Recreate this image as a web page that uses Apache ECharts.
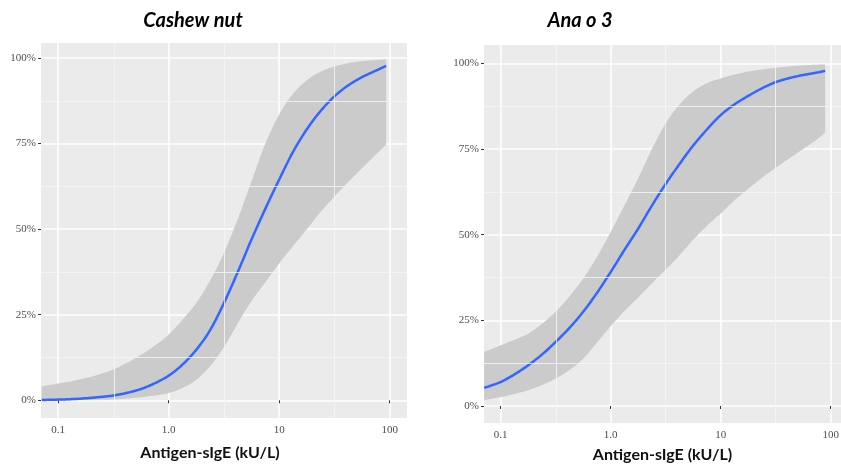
<!DOCTYPE html>
<html><head><meta charset="utf-8">
<script src="https://cdn.jsdelivr.net/npm/echarts@6/dist/echarts.min.js"></script>
<style>html,body{margin:0;padding:0;background:#fff}#c{width:841px;height:466px}</style>
</head><body><div id="c"></div>
<script>
// ---- text ----
const panelTitles = ['Cashew nut', 'Ana o 3'];
const xAxisTitle = 'Antigen-sIgE (kU/L)';
// ---- ticks ----
const xTickValues = [0.1, 1, 10, 100];
const xTickLabels = ['0.1', '1.0', '10', '100'];
const xMinorValues = [0.316, 3.16, 31.6];
const yTickValues = [0, 25, 50, 75, 100];
const yTickLabels = ['0%', '25%', '50%', '75%', '100%'];
const yMinorValues = [12.5, 37.5, 62.5, 87.5];

// ---- Cashew nut (sIgE kU/L, probability %) ----
const cashewX     = [0.0708, 0.1, 0.133, 0.178, 0.237, 0.316, 0.422, 0.562, 0.75, 1, 1.33, 1.78, 2.37, 3.16, 4.22, 5.62, 7.5, 10, 13.3, 17.8, 23.7, 31.6, 42.2, 56.2, 75, 93];
const cashewFit   = [0.1, 0.2, 0.35, 0.6, 0.95, 1.4, 2.2, 3.3, 5.0, 7.2, 10.4, 14.8, 20.5, 28.4, 37.5, 47, 56, 64.5, 72.5, 79.2, 84.5, 88.8, 92, 94.4, 96.3, 97.7];
const cashewLower = [0, 0, 0.05, 0.1, 0.15, 0.25, 0.5, 0.9, 1.4, 2.1, 3.6, 6, 10, 15.5, 22.5, 29, 34.5, 40, 45, 50, 55, 59.5, 63.8, 67.8, 71.8, 74.7];
const cashewUpper = [4.1, 4.9, 5.6, 6.5, 7.6, 9, 11, 13.3, 16, 19.2, 23.5, 28.5, 35, 43, 53, 64, 75, 83.5, 89.5, 93.5, 96, 97.5, 98.5, 99.1, 99.4, 99.6];

// ---- Ana o 3 ----
const anaX     = [0.0708, 0.1, 0.133, 0.178, 0.237, 0.316, 0.422, 0.562, 0.75, 1, 1.33, 1.78, 2.37, 3.16, 4.22, 5.62, 7.5, 10, 13.3, 17.8, 23.7, 31.6, 42.2, 56.2, 75, 89];
const anaFit   = [5.3, 7, 9.2, 11.9, 15, 18.7, 22.8, 27.5, 33, 39.1, 45.5, 51.8, 58.5, 64.8, 70.6, 76, 80.7, 84.9, 88, 90.5, 92.7, 94.5, 95.7, 96.6, 97.3, 97.8];
const anaLower = [1.7, 2.6, 3.5, 4.6, 6.1, 8, 10.5, 13.8, 18.5, 23.3, 27.7, 31.7, 35.8, 39.8, 44, 48.5, 52.6, 56.2, 60, 63.4, 66.6, 69.5, 72.3, 75, 77.8, 79.8];
const anaUpper = [15.8, 17.7, 19.3, 21.1, 24, 27.5, 32, 37.2, 43.5, 50.8, 58.5, 66.5, 75, 82.5, 88, 91.8, 94.2, 95.6, 96.7, 97.6, 98.2, 98.7, 99.1, 99.4, 99.6, 99.7];

const panels = [
  {x: cashewX, fit: cashewFit, lo: cashewLower, hi: cashewUpper},
  {x: anaX, fit: anaFit, lo: anaLower, hi: anaUpper}
];

const grids = [
  {left: 41, top: 43, width: 366, height: 375},
  {left: 484, top: 45, width: 357, height: 378}
];
const xRanges = [[0.0698, 143.5], [0.0705, 124]];
const yRanges = [[-5.17, 104.38], [-4.96, 105.35]];

function nearestLabel(v, vals, labels) {
  let best = -1, bd = Infinity;
  vals.forEach((t, i) => { const d = Math.abs(Math.log10(t) - Math.log10(Math.abs(v) || 1e-9)); if (d < bd) { bd = d; best = i; } });
  return bd < 0.01 ? labels[best] : '';
}

// Catmull-Rom smoothing of screen points
function smoothPts(pts) {
  const out = [];
  for (let i = 0; i < pts.length - 1; i++) {
    const p0 = pts[Math.max(0, i - 1)], p1 = pts[i], p2 = pts[i + 1], p3 = pts[Math.min(pts.length - 1, i + 2)];
    for (let s = 0; s < 10; s++) {
      const t = s / 10, t2 = t * t, t3 = t2 * t;
      out.push([0, 1].map(d => 0.5 * ((2 * p1[d]) + (-p0[d] + p2[d]) * t + (2 * p0[d] - 5 * p1[d] + 4 * p2[d] - p3[d]) * t2 + (-p0[d] + 3 * p1[d] - 3 * p2[d] + p3[d]) * t3)));
    }
  }
  out.push(pts[pts.length - 1]);
  return out;
}

const tickStyle = {show: true, length: 3, lineStyle: {color: '#333', width: 1}};
const labelFont = {fontFamily: '"Liberation Serif", "DejaVu Serif", serif', fontSize: 11, color: '#4d4d4d'};
const titleCenters = [188, 575];
const xNamePad = [[0, 28, 0, 0], [0, 0, 0, 0]];
const xNameGap = [27, 24];

const option = {
  animation: false,
  backgroundColor: '#fff',
  title: panelTitles.map((t, i) => ({
    text: t,
    left: titleCenters[i],
    top: 6,
    textAlign: 'center',
    textStyle: {fontFamily: 'Lato, "Open Sans", sans-serif', fontStyle: 'italic', fontWeight: 'bold', fontSize: 20, color: '#000'}
  })),
  grid: grids.map(g => Object.assign({show: true, backgroundColor: '#ebebeb', borderWidth: 0, containLabel: false, outerBoundsMode: 'none'}, g)),
  xAxis: [0, 1].map(i => ({
    type: 'log', logBase: 10, gridIndex: i,
    min: xRanges[i][0], max: xRanges[i][1],
    name: xAxisTitle, nameLocation: 'middle', nameGap: xNameGap[i],
    nameTextStyle: {fontFamily: 'Lato, "Open Sans", sans-serif', fontWeight: 'bold', fontSize: 16, color: '#111', padding: xNamePad[i]},
    axisLine: {show: false},
    axisTick: Object.assign({customValues: xTickValues}, tickStyle),
    axisLabel: Object.assign({customValues: xTickValues, margin: 7,
      formatter: v => nearestLabel(v, xTickValues, xTickLabels)}, labelFont),
    splitLine: {show: true, lineStyle: {color: '#fff', width: 1.6}},
    minorSplitLine: {show: false}
  })),
  yAxis: [0, 1].map(i => ({
    type: 'value', gridIndex: i,
    min: yRanges[i][0], max: yRanges[i][1],
    axisLine: {show: false},
    axisTick: Object.assign({customValues: yTickValues}, tickStyle),
    axisLabel: Object.assign({customValues: yTickValues, margin: 5,
      formatter: v => { const k = yTickValues.indexOf(Math.round(v)); return k >= 0 ? yTickLabels[k] : ''; }}, labelFont),
    splitLine: {show: true, lineStyle: {color: '#fff', width: 1.6}}
  })),
  series: []
};

panels.forEach((p, i) => {
  // minor grid lines
  option.series.push({
    type: 'line', xAxisIndex: i, yAxisIndex: i, data: [], z: 1, silent: true,
    markLine: {
      silent: true, symbol: 'none', label: {show: false}, animation: false,
      lineStyle: {color: '#f6f6f6', width: 0.8, type: 'solid'},
      data: xMinorValues.map(v => ({xAxis: v})).concat(yMinorValues.map(v => ({yAxis: v})))
    }
  });
  // confidence ribbon
  option.series.push({
    type: 'custom', xAxisIndex: i, yAxisIndex: i, silent: true, z: 2,
    data: p.x.map((x, k) => [x, p.lo[k], p.hi[k]]),
    encode: {x: 0, y: [1, 2]},
    renderItem: (params, api) => {
      if (params.dataIndex !== 0) return null;
      const up = smoothPts(p.x.map((x, k) => api.coord([x, p.hi[k]])));
      const dn = smoothPts(p.x.map((x, k) => api.coord([x, p.lo[k]]))).reverse();
      return {type: 'polygon', shape: {points: up.concat(dn)}, style: {fill: '#cbcbcb'}};
    }
  });
  // fitted curve
  option.series.push({
    type: 'custom', xAxisIndex: i, yAxisIndex: i, silent: true, z: 3,
    data: p.x.map((x, k) => [x, p.fit[k]]),
    encode: {x: 0, y: 1},
    renderItem: (params, api) => {
      if (params.dataIndex !== 0) return null;
      const pts = smoothPts(p.x.map((x, k) => api.coord([x, p.fit[k]])));
      return {type: 'polyline', shape: {points: pts}, style: {stroke: '#3366ff', lineWidth: 2.5, fill: null, lineJoin: 'round'}};
    }
  });
});

const chart = echarts.init(document.getElementById('c'), null, {renderer: 'canvas'});
chart.setOption(option);
</script>
</body></html>
